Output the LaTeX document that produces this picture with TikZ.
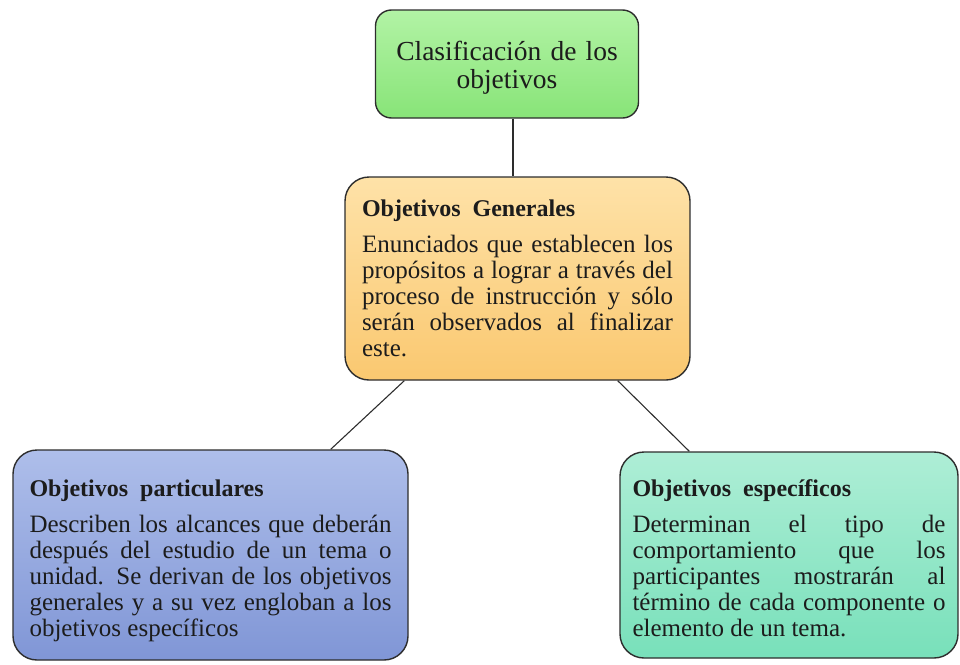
\documentclass[tikz,border=0pt]{standalone}
\usepackage{fontspec}
\setmainfont{Liberation Serif}
\usepackage{tikz}
\usetikzlibrary{shapes, arrows}

\definecolor{verdeA}{RGB}{178,243,165}
\definecolor{verdeB}{RGB}{136,228,120}
\definecolor{naranjaA}{RGB}{254,226,168}
\definecolor{naranjaB}{RGB}{250,200,112}
\definecolor{azulA}{RGB}{174,190,234}
\definecolor{azulB}{RGB}{128,150,214}
\definecolor{aguaA}{RGB}{174,238,214}
\definecolor{aguaB}{RGB}{120,224,186}
\definecolor{borde}{RGB}{45,45,45}
\definecolor{tinta}{RGB}{28,28,28}

\begin{document}
\begin{tikzpicture}[x=1pt, y=-1pt,
  caja/.style={draw=borde, line width=1.4pt, rounded corners=24pt, inner sep=0pt, text=tinta},
  texto/.style={font={\fontsize{25}{26}\selectfont\parindent=0pt}, align=justify},
  linea/.style={draw=borde, line width=1.1pt}]
\useasboundingbox (0,0) rectangle (960,664);

\node[caja, rounded corners=16pt, top color=verdeA, bottom color=verdeB, minimum width=263pt, minimum height=108pt, text width=250pt, font=\fontsize{27.5}{28}\selectfont, align=center] (clasif) at (507,64) {\rule{0pt}{26pt}Clasificación de los\\objetivos};
\node[caja, texto, top color=naranjaA, bottom color=naranjaB, minimum width=345pt, minimum height=203pt, text width=311pt] (gen) at (517.5,278.5) {{\fontsize{24}{26}\selectfont\bfseries Objetivos~~Generales\par}\vspace{10pt}Enunciados que establecen los\linebreak propósitos a lograr a través del\linebreak proceso de instrucción y sólo\linebreak serán observados al finalizar\linebreak este.};
\node[caja, texto, top color=azulA, bottom color=azulB, minimum width=395pt, minimum height=210pt, text width=362pt] (part) at (210.5,555) {{\fontsize{24}{26}\selectfont\bfseries\rule{0pt}{28.5pt}Objetivos~~particulares\par}\vspace{10pt}Describen los alcances que deberán\linebreak después del estudio de un tema o\linebreak unidad. Se derivan de los objetivos\linebreak generales y a su vez engloban a los\linebreak objetivos específicos};
\node[caja, texto, top color=aguaA, bottom color=aguaB, minimum width=338pt, minimum height=206pt, text width=313pt] (esp) at (789,555) {{\fontsize{24}{26}\selectfont\bfseries\rule{0pt}{22.5pt}Objetivos~~específicos\par}\vspace{10pt}Determinan el tipo de\linebreak comportamiento que los\linebreak participantes mostrarán al\linebreak término de cada componente o\linebreak elemento de un tema.};

\draw[linea] ([xshift=6pt]clasif.south) -- ([xshift=6pt]clasif.south |- gen.north);
\draw[linea] ([xshift=60pt]gen.south west) -- ([xshift=-78pt]part.north east);
\draw[linea] ([xshift=-73pt]gen.south east) -- ([xshift=70pt]esp.north west);
\end{tikzpicture}
\end{document}
